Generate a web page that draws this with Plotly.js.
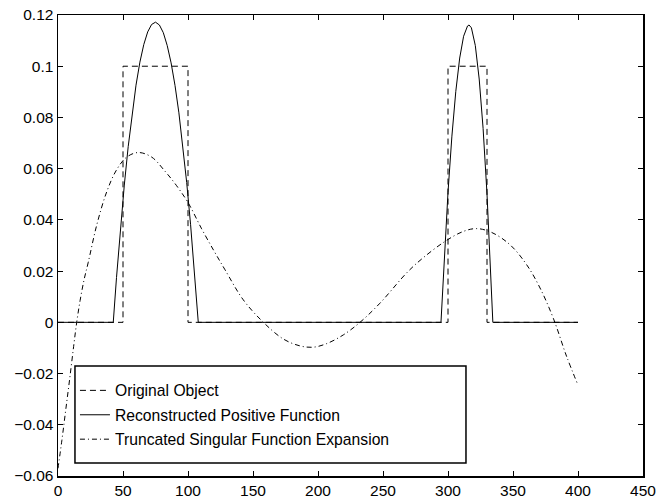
<!DOCTYPE html>
<html>
<head>
<meta charset="utf-8">
<script src="https://cdn.plot.ly/plotly-3.0.1.min.js"></script>
<style>html,body{margin:0;padding:0;background:#fff;}#chart{width:668px;height:502px;}</style>
</head>
<body>
<div id="chart"></div>
<script>
// Original Object (dashed)
const origX = [0, 50, 50, 100, 100, 300, 300, 330, 330, 400];
const origY = [0, 0, 0.1, 0.1, 0, 0, 0.1, 0.1, 0, 0];

// Reconstructed Positive Function (solid)
const recX = [0, 42.5, 45, 48, 51, 54, 57, 60, 63, 66, 69, 72, 75, 78, 81, 84, 87, 90, 93, 96, 99, 102, 105, 107.9,
  294.6, 297, 300, 303, 306, 309, 312, 315, 316.2, 318, 321, 324, 327, 330, 333, 334.5, 400];
const recY = [0, 0, 0.0175, 0.0365, 0.0536, 0.0686, 0.0816, 0.0926, 0.1016, 0.1085, 0.1134, 0.1163, 0.1172, 0.1161, 0.1131, 0.1081, 0.1013, 0.0925, 0.0818, 0.0691, 0.0546, 0.0381, 0.0196, 0,
  0, 0.0244, 0.0508, 0.0727, 0.0902, 0.1032, 0.1117, 0.1157, 0.1161, 0.115, 0.1081, 0.095, 0.0757, 0.0501, 0.0183, 0, 0];

// Truncated Singular Function Expansion (dash-dot)
const tsfX = [0, 3, 6, 9, 12, 14.4, 17, 20, 23.3, 29.8, 37.5, 45, 52.8, 61.8, 72.1, 82.3, 91, 100.2, 110.5, 120.2, 128.5, 142.5, 158,
  173.3, 186.2, 196.4, 206.7, 219.5, 232.3, 247.7, 268.2, 279.7, 297.7, 311.8, 322.1, 333.6, 347.7, 360.5, 370.8, 381, 391.3, 400];
const tsfY = [-0.057, -0.046, -0.034, -0.022, -0.0095, 0, 0.0085, 0.0165, 0.0235, 0.038, 0.051, 0.0595, 0.0645, 0.0663, 0.0645, 0.059, 0.0535, 0.0466, 0.0365, 0.0277, 0.0205, 0.0088, 0,
  -0.0065, -0.0092, -0.0097, -0.0083, -0.0049, 0, 0.0075, 0.0193, 0.0247, 0.0316, 0.0355, 0.0366, 0.0351, 0.0303, 0.0225, 0.0134, 0.0016, -0.0134, -0.0245];

const seriesNames = ["Original Object", "Reconstructed Positive Function", "Truncated Singular Function Expansion"];

const xTickVals = [0, 50, 100, 150, 200, 250, 300, 350, 400, 450];
const xTickText = ["0", "50", "100", "150", "200", "250", "300", "350", "400", "450"];
const yTickVals = [-0.06, -0.04, -0.02, 0, 0.02, 0.04, 0.06, 0.08, 0.1, 0.12];
const yTickText = ["\u22120.06", "\u22120.04", "\u22120.02", "0", "0.02", "0.04", "0.06", "0.08", "0.1", "0.12"];

const FONT = "Liberation Sans, Arial, Helvetica, sans-serif";

const traces = [
  {x: origX, y: origY, name: seriesNames[0], mode: "lines", legendgroup: "a",
   line: {color: "#000", width: 1, dash: "6px,4px"}},
  {x: recX, y: recY, name: seriesNames[1], mode: "lines", legendgroup: "b",
   line: {color: "#000", width: 1}},
  {x: tsfX, y: tsfY, name: seriesNames[2], mode: "lines", legendgroup: "c",
   line: {color: "#000", width: 1, dash: "5px,3px,1px,3px", shape: "spline", smoothing: 1}}
];

const axisCommon = {
  showgrid: false, zeroline: false, showline: true, linecolor: "#000", linewidth: 1.5,
  mirror: "ticks", ticks: "inside", ticklen: 5, tickwidth: 1, tickcolor: "#000",
  tickfont: {family: FONT, size: 15.5, color: "#000"}, tickmode: "array"
};

const layout = {
  width: 668, height: 502,
  margin: {l: 58, r: 25, t: 15, b: 26},
  paper_bgcolor: "#fff", plot_bgcolor: "#fff",
  font: {family: FONT, size: 15.5, color: "#000"},
  xaxis: Object.assign({}, axisCommon, {range: [0, 450], tickvals: xTickVals, ticktext: xTickText}),
  yaxis: Object.assign({}, axisCommon, {range: [-0.06, 0.12], tickvals: yTickVals, ticktext: yTickText}),
  showlegend: true,
  legend: {x: 0.029, y: 0.222, xanchor: "left", yanchor: "top", bgcolor: "rgba(0,0,0,0)",
           borderwidth: 0, tracegroupgap: 1, font: {family: FONT, size: 15.7, color: "#000"}, traceorder: "grouped"},
  shapes: [
    {type: "rect", xref: "paper", yref: "paper", x0: 0.029, x1: 0.6974, y0: 0.0282, y1: 0.2386,
     fillcolor: "#fff", line: {color: "#000", width: 1.5}, layer: "above"}
  ]
};

Plotly.newPlot("chart", traces, layout, {displayModeBar: false, staticPlot: true});
</script>
</body>
</html>
